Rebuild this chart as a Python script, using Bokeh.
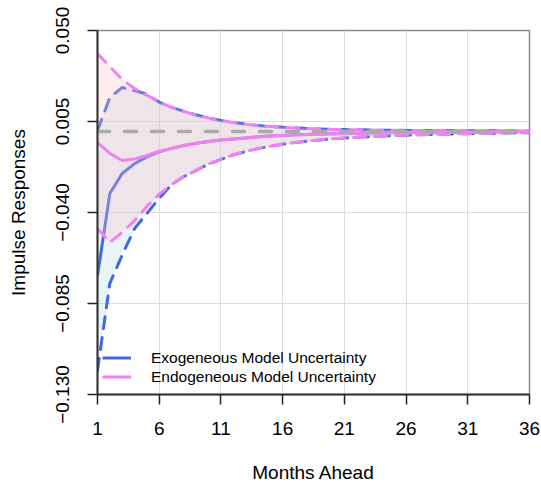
from bokeh.plotting import figure
from bokeh.models import (Range1d, FixedTicker, ColumnDataSource, Legend, LegendItem)
from bokeh.embed import file_html
from bokeh.resources import INLINE

months = list(range(1, 37))

exo_mean = [-0.0712, -0.0306, -0.0207, -0.0158, -0.0125, -0.0100, -0.0083, -0.0069,
            -0.0058, -0.0049, -0.0042, -0.0036, -0.0031, -0.0026, -0.0022, -0.0019,
            -0.0016, -0.0014, -0.0012, -0.0010, -0.0009, -0.0008, -0.0007, -0.0006,
            -0.0005, -0.0004, -0.0004, -0.0003, -0.0003, -0.0002, -0.0002, -0.0002,
            -0.0001, -0.0001, -0.0001, -0.0001]
exo_upper = [0.0005, 0.0169, 0.0218, 0.0203, 0.0185, 0.0145, 0.0120, 0.0100,
             0.0082, 0.0067, 0.0055, 0.0045, 0.0037, 0.0030, 0.0025, 0.0021,
             0.0018, 0.0015, 0.0013, 0.0011, 0.0010, 0.0009, 0.0008, 0.0007,
             0.0007, 0.0006, 0.0006, 0.0005, 0.0005, 0.0005, 0.0004, 0.0004,
             0.0004, 0.0004, 0.0003, 0.0003]
exo_lower = [-0.1180, -0.0750, -0.0610, -0.0480, -0.0405, -0.0330, -0.0262, -0.0222,
             -0.0192, -0.0160, -0.0137, -0.0115, -0.0098, -0.0084, -0.0072, -0.0062,
             -0.0054, -0.0047, -0.0041, -0.0036, -0.0032, -0.0028, -0.0025, -0.0022,
             -0.0020, -0.0018, -0.0016, -0.0014, -0.0012, -0.0011, -0.0010, -0.0009,
             -0.0008, -0.0007, -0.0006, -0.0006]

endo_mean = [-0.0054, -0.0108, -0.0143, -0.0135, -0.0118, -0.0097, -0.0083, -0.0069,
             -0.0058, -0.0049, -0.0042, -0.0036, -0.0031, -0.0026, -0.0022, -0.0019,
             -0.0016, -0.0014, -0.0012, -0.0010, -0.0009, -0.0008, -0.0007, -0.0006,
             -0.0005, -0.0004, -0.0004, -0.0003, -0.0003, -0.0002, -0.0002, -0.0002,
             -0.0001, -0.0001, -0.0001, -0.0001]
endo_upper = [0.0386, 0.0322, 0.0258, 0.0213, 0.0180, 0.0147, 0.0120, 0.0100,
              0.0082, 0.0067, 0.0055, 0.0045, 0.0037, 0.0030, 0.0025, 0.0021,
              0.0018, 0.0015, 0.0013, 0.0011, 0.0010, 0.0009, 0.0008, 0.0007,
              0.0007, 0.0006, 0.0006, 0.0005, 0.0005, 0.0005, 0.0004, 0.0004,
              0.0004, 0.0004, 0.0003, 0.0003]
endo_lower = [-0.0479, -0.0548, -0.0499, -0.0440, -0.0370, -0.0310, -0.0262, -0.0222,
              -0.0192, -0.0160, -0.0137, -0.0115, -0.0098, -0.0084, -0.0072, -0.0062,
              -0.0054, -0.0047, -0.0041, -0.0036, -0.0032, -0.0028, -0.0025, -0.0022,
              -0.0020, -0.0018, -0.0016, -0.0014, -0.0012, -0.0011, -0.0010, -0.0009,
              -0.0008, -0.0007, -0.0006, -0.0006]
zero_line = [0.0] * len(months)

x_ticks = [1, 6, 11, 16, 21, 26, 31, 36]
y_ticks = [-0.130, -0.085, -0.040, 0.005, 0.050]
y_tick_labels = ["\u22120.130", "\u22120.085", "\u22120.040", "0.005", "0.050"]
x_label = "Months Ahead"
y_label = "Impulse Responses"
legend_labels = ["Exogeneous Model Uncertainty", "Endogeneous Model Uncertainty"]

src = ColumnDataSource(dict(x=months, em=exo_mean, eu=exo_upper, el=exo_lower,
                            nm=endo_mean, nu=endo_upper, nl=endo_lower, z=zero_line))

FONT = "Liberation Sans"
BLUE = "#4169E1"
PINK = "#EE82EE"
DASH = "12 9"

p = figure(width=541, height=489, output_backend="svg", toolbar_location=None,
           x_range=Range1d(1, 36), y_range=Range1d(-0.130, 0.050),
           min_border_left=97, min_border_right=12, min_border_top=30, min_border_bottom=95)
p.background_fill_color = "white"
p.border_fill_color = "white"
p.outline_line_color = "#8a8a8a"
p.outline_line_width = 1.5

# bands and lines
p.varea(x="x", y1="el", y2="eu", source=src, fill_color="lightblue", fill_alpha=0.27)
r_exo = p.line(x="x", y="em", source=src, line_color=BLUE, line_width=3)
p.line(x="x", y="eu", source=src, line_color=BLUE, line_width=3, line_dash=DASH, line_cap="round")
p.line(x="x", y="el", source=src, line_color=BLUE, line_width=3, line_dash=DASH, line_cap="round")
p.varea(x="x", y1="nl", y2="nu", source=src, fill_color="pink", fill_alpha=0.3)
r_endo = p.line(x="x", y="nm", source=src, line_color=PINK, line_width=3)
p.line(x="x", y="nu", source=src, line_color=PINK, line_width=3, line_dash=DASH, line_cap="round")
p.line(x="x", y="nl", source=src, line_color=PINK, line_width=3, line_dash=DASH, line_cap="round")
p.line(x="x", y="z", source=src, line_color="#aaaaaa", line_width=3.5, line_dash="12 15", line_cap="round")

leg = Legend(items=[LegendItem(label=legend_labels[0], renderers=[r_exo]),
                    LegendItem(label=legend_labels[1], renderers=[r_endo])],
             location=(5, 8), padding=8, margin=0, spacing=0,
             glyph_width=29, glyph_height=19, label_height=19, label_standoff=20,
             label_text_font=FONT, label_text_font_size="15.5px", label_text_color="black",
             border_line_color=None, background_fill_alpha=0)
p.add_layout(leg)

# grid
for g in (p.xgrid, p.ygrid):
    g.grid_line_color = "#dddddd"
    g.grid_line_width = 1

# axes
p.xaxis.ticker = FixedTicker(ticks=x_ticks)
p.yaxis.ticker = FixedTicker(ticks=y_ticks)
p.yaxis.major_label_overrides = {t: s for t, s in zip(y_ticks, y_tick_labels)}
p.yaxis.major_label_orientation = "vertical"
for ax in (p.xaxis[0], p.yaxis[0]):
    ax.axis_line_color = "#333333"
    ax.axis_line_width = 2
    ax.major_tick_line_color = "#222222"
    ax.major_tick_line_width = 1.5
    ax.major_tick_in = 0
    ax.major_tick_out = 10
    ax.minor_tick_line_color = None
    ax.major_label_text_font = FONT
    ax.major_label_text_font_size = "19px"
    ax.major_label_text_color = "black"
    ax.axis_label_text_font = FONT
    ax.axis_label_text_font_size = "19px"
    ax.axis_label_text_font_style = "normal"
    ax.axis_label_text_color = "black"
p.xaxis.axis_label = x_label
p.yaxis.axis_label = y_label
p.xaxis.major_label_standoff = 17
p.xaxis.axis_label_standoff = 24
p.yaxis.major_label_standoff = 19
p.yaxis.axis_label_standoff = 24

open("out.html", "w").write(file_html(p, INLINE))
